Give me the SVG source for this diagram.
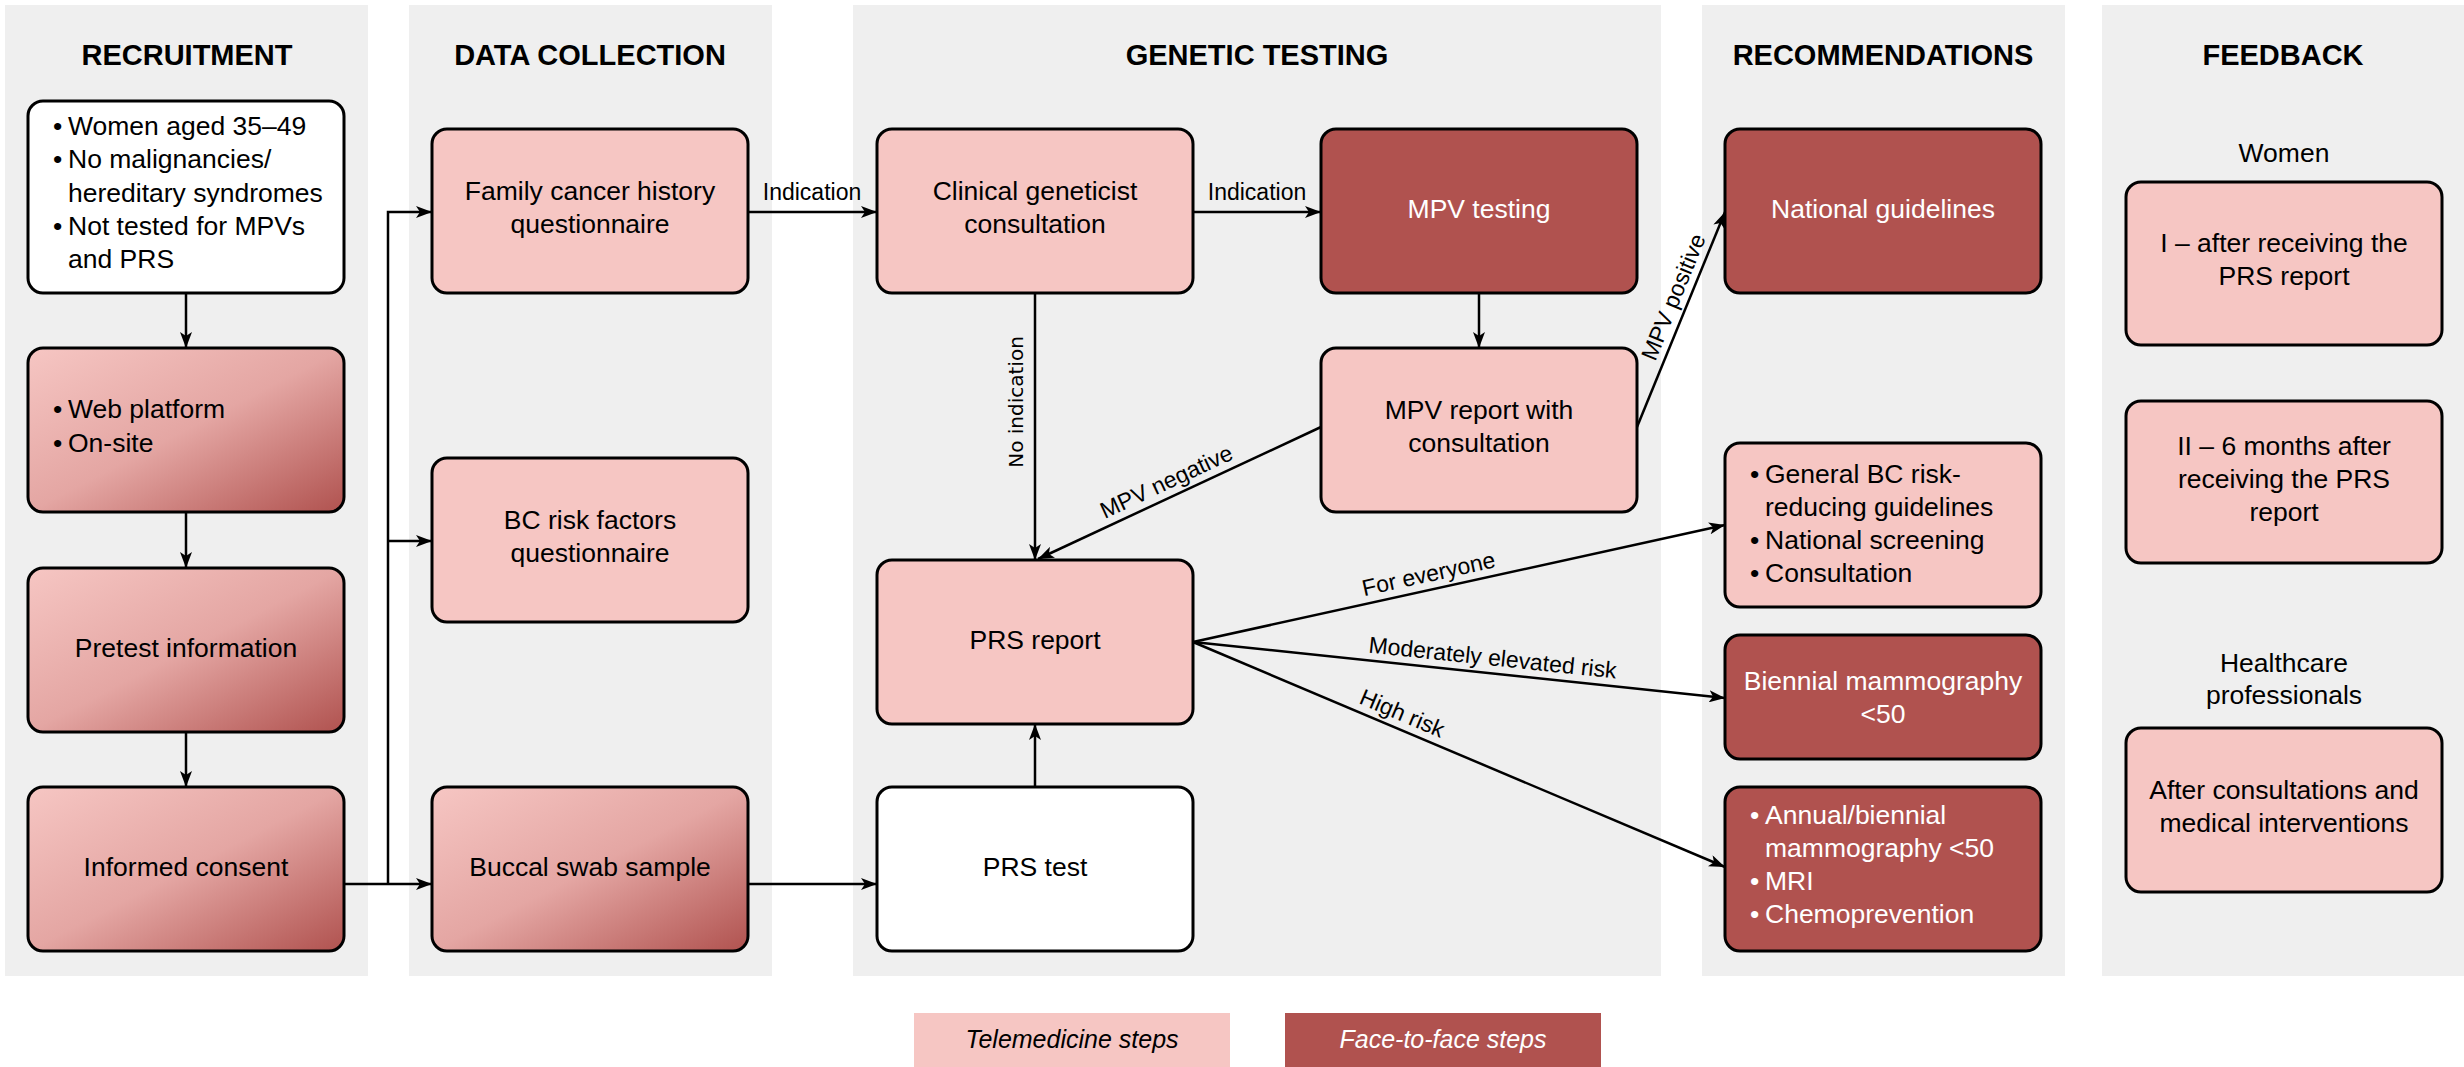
<svg xmlns="http://www.w3.org/2000/svg" width="2464" height="1067" viewBox="0 0 2464 1067">
<defs>
<linearGradient id="grad" x1="0" y1="0" x2="1" y2="1">
<stop offset="0" stop-color="#f6c6c3"/>
<stop offset="0.5" stop-color="#e4a6a3"/>
<stop offset="1" stop-color="#b0524f"/>
</linearGradient>
<marker id="arr" viewBox="0 0 16 12" refX="16" refY="6" markerWidth="16" markerHeight="12" markerUnits="userSpaceOnUse" orient="auto">
<path d="M0,0 L16,6 L0,12 L4,6 Z" fill="#000"/>
</marker>
<style>
.panel{fill:#efefef}
.box{stroke:#000;stroke-width:3}
.white{fill:#fff}
.pink{fill:#f6c6c3}
.dark{fill:#b0524f}
.grad{fill:url(#grad)}
text{font-family:"Liberation Sans",Arial,sans-serif;font-size:26.5px;fill:#000}
.title{font-weight:bold;font-size:29px;text-anchor:middle}
.c{text-anchor:middle}
.w{fill:#fff}
.lbl{font-size:23px;text-anchor:middle}
.conn{stroke:#000;stroke-width:2.5;fill:none}
.arrow{marker-end:url(#arr)}
.leg{font-style:italic;font-size:25px;text-anchor:middle}
</style>
</defs>
<rect width="2464" height="1067" fill="#fff"/>

<g id="panels">
<rect class="panel" x="5" y="5" width="363" height="971"/>
<rect class="panel" x="409" y="5" width="363" height="971"/>
<rect class="panel" x="853" y="5" width="808" height="971"/>
<rect class="panel" x="1702" y="5" width="363" height="971"/>
<rect class="panel" x="2102" y="5" width="362" height="971"/>
<text class="title" x="187" y="65">RECRUITMENT</text>
<text class="title" x="590" y="65">DATA COLLECTION</text>
<text class="title" x="1257" y="65">GENETIC TESTING</text>
<text class="title" x="1883" y="65">RECOMMENDATIONS</text>
<text class="title" x="2283" y="65">FEEDBACK</text>
<text class="c" x="2284" y="162">Women</text>
<text class="c" x="2284" y="672">Healthcare</text>
<text class="c" x="2284" y="704">professionals</text>
</g>

<g id="connectors">
<path class="conn arrow" d="M186,293 V348"/>
<path class="conn arrow" d="M186,512 V568"/>
<path class="conn arrow" d="M186,732 V787"/>
<path class="conn arrow" d="M344,884 H432"/>
<path class="conn arrow" d="M388,884 V212 H432"/>
<path class="conn arrow" d="M388,541 H432"/>
<path class="conn arrow" d="M748,212 H877"/>
<text class="lbl" x="812" y="200">Indication</text>
<path class="conn arrow" d="M1193,212 H1321"/>
<text class="lbl" x="1257" y="200">Indication</text>
<path class="conn arrow" d="M1479,293 V348"/>
<path class="conn arrow" d="M1035,293 V560"/>
<text class="lbl" style="font-family:'DejaVu Sans',sans-serif;font-size:20px" transform="translate(1035,402) rotate(-90)" x="0" y="-12">No indication</text>
<path class="conn arrow" d="M1321,427 L1038,559"/>
<text class="lbl" transform="translate(1173,496) rotate(-25)" x="0" y="-8">MPV negative</text>
<path class="conn arrow" d="M1637,427 L1725,212"/>
<text class="lbl" transform="translate(1688,303) rotate(-67.7)" x="0" y="-8">MPV positive</text>
<path class="conn arrow" d="M748,884 H877"/>
<path class="conn arrow" d="M1035,787 V724"/>
<path class="conn arrow" d="M1193,642 L1725,525"/>
<text class="lbl" transform="translate(1432,589.4) rotate(-12.4)" x="0" y="-8">For everyone</text>
<path class="conn arrow" d="M1193,642 L1725,698"/>
<text class="lbl" transform="translate(1491,673.4) rotate(6)" x="0" y="-8">Moderately elevated risk</text>
<path class="conn arrow" d="M1193,642 L1725,867"/>
<text class="lbl" transform="translate(1396,727.9) rotate(22.9)" x="0" y="-8">High risk</text>
</g>

<g id="n-eligibility">
<rect class="box white" x="28" y="101" width="316" height="192" rx="15"/>
<text x="53" y="135">•</text><text x="68" y="135">Women aged 35–49</text>
<text x="53" y="168">•</text><text x="68" y="168">No malignancies/</text>
<text x="68" y="202">hereditary syndromes</text>
<text x="53" y="235">•</text><text x="68" y="235">Not tested for MPVs</text>
<text x="68" y="268">and PRS</text>
</g>
<g id="n-channel">
<rect class="box grad" x="28" y="348" width="316" height="164" rx="15"/>
<text x="53" y="418">•</text><text x="68" y="418">Web platform</text>
<text x="53" y="452">•</text><text x="68" y="452">On-site</text>
</g>
<g id="n-pretest">
<rect class="box grad" x="28" y="568" width="316" height="164" rx="15"/>
<text class="c" x="186" y="657">Pretest information</text>
</g>
<g id="n-consent">
<rect class="box grad" x="28" y="787" width="316" height="164" rx="15"/>
<text class="c" x="186" y="876">Informed consent</text>
</g>

<g id="n-family">
<rect class="box pink" x="432" y="129" width="316" height="164" rx="15"/>
<text class="c" x="590" y="200">Family cancer history</text>
<text class="c" x="590" y="233">questionnaire</text>
</g>
<g id="n-bcrisk">
<rect class="box pink" x="432" y="458" width="316" height="164" rx="15"/>
<text class="c" x="590" y="529">BC risk factors</text>
<text class="c" x="590" y="562">questionnaire</text>
</g>
<g id="n-buccal">
<rect class="box grad" x="432" y="787" width="316" height="164" rx="15"/>
<text class="c" x="590" y="876">Buccal swab sample</text>
</g>

<g id="n-clinical">
<rect class="box pink" x="877" y="129" width="316" height="164" rx="15"/>
<text class="c" x="1035" y="200">Clinical geneticist</text>
<text class="c" x="1035" y="233">consultation</text>
</g>
<g id="n-mpvtest">
<rect class="box dark" x="1321" y="129" width="316" height="164" rx="15"/>
<text class="c w" x="1479" y="218">MPV testing</text>
</g>
<g id="n-mpvreport">
<rect class="box pink" x="1321" y="348" width="316" height="164" rx="15"/>
<text class="c" x="1479" y="419">MPV report with</text>
<text class="c" x="1479" y="452">consultation</text>
</g>
<g id="n-prsreport">
<rect class="box pink" x="877" y="560" width="316" height="164" rx="15"/>
<text class="c" x="1035" y="649">PRS report</text>
</g>
<g id="n-prstest">
<rect class="box white" x="877" y="787" width="316" height="164" rx="15"/>
<text class="c" x="1035" y="876">PRS test</text>
</g>

<g id="n-national">
<rect class="box dark" x="1725" y="129" width="316" height="164" rx="15"/>
<text class="c w" x="1883" y="218">National guidelines</text>
</g>
<g id="n-general">
<rect class="box pink" x="1725" y="443" width="316" height="164" rx="15"/>
<text x="1750" y="483">•</text><text x="1765" y="483">General BC risk-</text>
<text x="1765" y="516">reducing guidelines</text>
<text x="1750" y="549">•</text><text x="1765" y="549">National screening</text>
<text x="1750" y="582">•</text><text x="1765" y="582">Consultation</text>
</g>
<g id="n-biennial">
<rect class="box dark" x="1725" y="635" width="316" height="124" rx="15"/>
<text class="c w" x="1883" y="690">Biennial mammography</text>
<text class="c w" x="1883" y="723">&lt;50</text>
</g>
<g id="n-highrisk">
<rect class="box dark" x="1725" y="787" width="316" height="164" rx="15"/>
<text class="w" x="1750" y="824">•</text><text class="w" x="1765" y="824">Annual/biennial</text>
<text class="w" x="1765" y="857">mammography &lt;50</text>
<text class="w" x="1750" y="890">•</text><text class="w" x="1765" y="890">MRI</text>
<text class="w" x="1750" y="923">•</text><text class="w" x="1765" y="923">Chemoprevention</text>
</g>

<g id="n-fb1">
<rect class="box pink" x="2126" y="182" width="316" height="163" rx="15"/>
<text class="c" x="2284" y="252">I – after receiving the</text>
<text class="c" x="2284" y="285">PRS report</text>
</g>
<g id="n-fb2">
<rect class="box pink" x="2126" y="401" width="316" height="162" rx="15"/>
<text class="c" x="2284" y="455">II – 6 months after</text>
<text class="c" x="2284" y="488">receiving the PRS</text>
<text class="c" x="2284" y="521">report</text>
</g>
<g id="n-fb3">
<rect class="box pink" x="2126" y="728" width="316" height="164" rx="15"/>
<text class="c" x="2284" y="799">After consultations and</text>
<text class="c" x="2284" y="832">medical interventions</text>
</g>

<g id="legend">
<rect class="pink" x="914" y="1013" width="316" height="54"/>
<text class="leg" x="1072" y="1048">Telemedicine steps</text>
<rect class="dark" x="1285" y="1013" width="316" height="54"/>
<text class="leg w" x="1443" y="1048">Face-to-face steps</text>
</g>
</svg>
